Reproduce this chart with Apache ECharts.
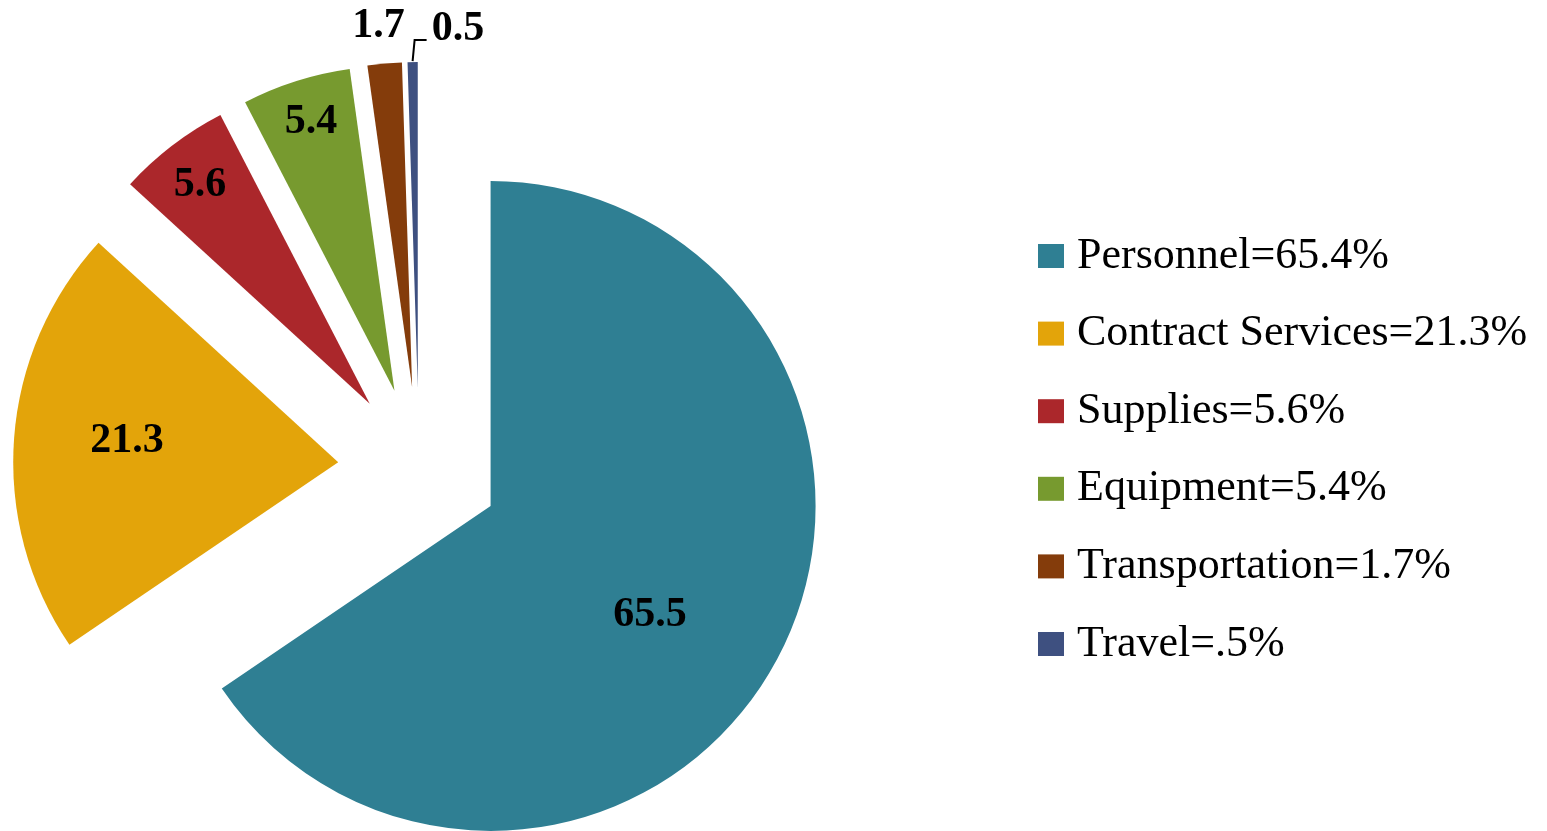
<!DOCTYPE html>
<html>
<head>
<meta charset="utf-8">
<script src="https://cdn.jsdelivr.net/npm/echarts@6/dist/echarts.min.js"></script>
<style>
html,body{margin:0;padding:0;background:#fff;}
#chart{width:1547px;height:831px;}
</style>
</head>
<body>
<div id="chart"></div>
<script>
// ---- data ----
var categories = ['Personnel', 'Contract Services', 'Supplies', 'Equipment', 'Transportation', 'Travel'];
var values = [65.5, 21.3, 5.6, 5.4, 1.7, 0.5];
var legendLabels = ['Personnel=65.4%', 'Contract Services=21.3%', 'Supplies=5.6%', 'Equipment=5.4%', 'Transportation=1.7%', 'Travel=.5%'];
var valueLabels = ['65.5', '21.3', '5.6', '5.4', '1.7', '0.5'];

// ---- style ----
var colors = ['#2F7F93', '#E3A40A', '#AB272B', '#779A2F', '#843C0B', '#3E5080'];
// label placement: [fraction of radius along slice bisector, tangential shift px]
var labelRadial = [0.591, 0.653, 0.851, 0.866, 1.117, 1.10];
var labelTangent = [22, 6, -2, 2, -3, 46];
var leaderLine = [false, false, false, false, false, true];
var CENTER = [419, 468], RADIUS = 325, EXPLODE = 81;
var FONT = '"Liberation Serif", "DejaVu Serif", serif';

var total = values.reduce(function (a, b) { return a + b; }, 0);
var midAngles = [];
(function () {
  var acc = 0;
  for (var i = 0; i < values.length; i++) {
    midAngles.push((acc + values[i] / 2) / total * 2 * Math.PI); // clockwise from 12 o'clock
    acc += values[i];
  }
})();

function polar(a, d, t) {
  return [
    CENTER[0] + Math.sin(a) * d + Math.cos(a) * (t || 0),
    CENTER[1] - Math.cos(a) * d + Math.sin(a) * (t || 0)
  ];
}

var chart = echarts.init(document.getElementById('chart'), null, {renderer: 'canvas'});

// visible, exploded slices
var sliceData = categories.map(function (c, i) {
  return {name: c, value: values[i], selected: true, itemStyle: {color: colors[i]}};
});
// label carrier (same angles, invisible slices)
var labelData = categories.map(function (c, i) {
  return {
    name: c,
    value: values[i],
    itemStyle: {color: 'rgba(0,0,0,0)'},
    labelLine: {show: leaderLine[i]}
  };
});

chart.setOption({
  animation: false,
  backgroundColor: '#ffffff',
  legend: {
    orient: 'vertical',
    left: 1038,
    top: 231,
    padding: 0,
    itemWidth: 26,
    itemHeight: 24,
    itemGap: 27.6,
    icon: 'rect',
    selectedMode: false,
    data: categories,
    formatter: function (name) { return legendLabels[categories.indexOf(name)]; },
    textStyle: {fontFamily: FONT, fontSize: 44, color: '#000', lineHeight: 50, padding: [0, 0, 0, 8]}
  },
  series: [{
    type: 'pie',
    name: 'slices',
    center: CENTER,
    radius: RADIUS,
    startAngle: 90,
    clockwise: true,
    selectedMode: 'multiple',
    selectedOffset: EXPLODE,
    silent: true,
    label: {show: false},
    labelLine: {show: false},
    emphasis: {disabled: true},
    data: sliceData
  }, {
    type: 'pie',
    name: 'labels',
    center: CENTER,
    radius: RADIUS,
    startAngle: 90,
    clockwise: true,
    selectedMode: false,
    avoidLabelOverlap: false,
    silent: true,
    legendHoverLink: false,
    label: {
      show: true,
      position: 'outside',
      formatter: function (p) { return valueLabels[p.dataIndex]; },
      fontFamily: FONT,
      fontWeight: 'bold',
      fontSize: 42,
      color: '#000'
    },
    labelLine: {length: 10, length2: 10, lineStyle: {color: '#000', width: 2}},
    labelLayout: function (p) {
      var i = p.dataIndex;
      var a = midAngles[i];
      var pos = polar(a, EXPLODE + labelRadial[i] * RADIUS, labelTangent[i]);
      var res = {x: pos[0], y: pos[1], align: 'center', verticalAlign: 'middle'};
      if (leaderLine[i]) {
        var p0 = polar(a, EXPLODE + RADIUS + 1);
        var p1 = [p0[0] + 2, p0[1] - 21];
        var p2 = [p1[0] + 12, p1[1]];
        res.labelLinePoints = [p0, p1, p2];
      }
      return res;
    },
    emphasis: {disabled: true},
    data: labelData
  }]
});
</script>
</body>
</html>
